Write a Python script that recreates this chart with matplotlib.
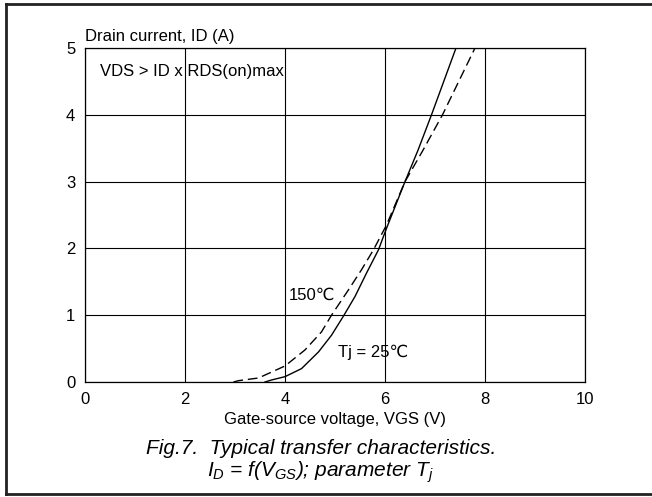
import matplotlib
matplotlib.use("Agg")
import matplotlib.pyplot as plt
from matplotlib.lines import Line2D

# ── Data ──────────────────────────────────────────────────────────
vgs_25 = [3.6, 3.73, 4.0, 4.33, 4.67, 4.93, 5.18, 5.4, 5.63, 5.87, 6.03, 6.4, 6.66, 6.93, 7.42]
id_25  = [0.0, 0.03, 0.08, 0.2, 0.45, 0.7, 1.0, 1.28, 1.63, 1.98, 2.3, 3.0, 3.47, 4.0, 5.0]

vgs_150 = [2.97, 3.07, 3.47, 4.0, 4.4, 4.73, 4.93, 5.27, 5.53, 5.77, 6.03, 6.4, 6.76, 7.15, 7.8]
id_150  = [0.0, 0.02, 0.06, 0.24, 0.48, 0.75, 1.0, 1.38, 1.68, 1.98, 2.35, 3.0, 3.47, 4.0, 5.0]

x_ticks = [0, 2, 4, 6, 8, 10]
y_ticks = [0, 1, 2, 3, 4, 5]

# ── Style ─────────────────────────────────────────────────────────
plt.rcParams.update({
    "font.family": ["Liberation Sans", "DejaVu Sans"],
    "font.size": 12,
    "mathtext.fontset": "custom",
    "mathtext.rm": "Liberation Sans",
    "mathtext.it": "Liberation Sans:italic",
})

fig = plt.figure(figsize=(6.52, 4.97), dpi=100, facecolor="white")
ax = fig.add_axes([85 / 652, 1 - 382 / 497, 500 / 652, 334 / 497])

ax.plot(vgs_25, id_25, color="black", lw=1.0)
ax.plot(vgs_150, id_150, color="black", lw=1.0, dashes=(7, 3.5))

ax.set_xlim(0, 10)
ax.set_ylim(0, 5)
ax.set_xticks(x_ticks)
ax.set_yticks(y_ticks)
ax.tick_params(length=0, pad=7, labelsize=12, colors="black")
ax.grid(True, color="black", lw=0.8)
for s in ax.spines.values():
    s.set_color("black")
    s.set_linewidth(0.9)

ax.set_xlabel("Gate-source voltage, VGS (V)", fontsize=12, labelpad=4)
ax.text(0.0, 5.06, "Drain current, ID (A)", fontsize=12, ha="left", va="bottom")
ax.text(0.3, 4.65, "VDS > ID x RDS(on)max", fontsize=12, ha="left", va="center")
ax.text(4.08, 1.3, "150℃", fontsize=12, ha="left", va="center")
ax.text(5.06, 0.45, "Tj = 25℃", fontsize=12, ha="left", va="center")

# caption
fig.text(0.493, 1 - 449 / 497, "Fig.7.  Typical transfer characteristics.",
         ha="center", va="center", fontsize=15, style="italic")
fig.text(0.492, 1 - 472 / 497, r"$I_D$ = f($V_{GS}$); parameter $T_j$",
         ha="center", va="center", fontsize=15, style="italic")

# page frame (left, top, bottom)
for xs, ys in [([6 / 652, 6 / 652], [3 / 497, 1 - 4 / 497]),
               ([6 / 652, 1.0], [1 - 4 / 497, 1 - 4 / 497]),
               ([6 / 652, 1.0], [3 / 497, 3 / 497])]:
    fig.add_artist(Line2D(xs, ys, color="#222222", lw=2.0, transform=fig.transFigure))

fig.savefig("out.png", dpi=100, facecolor="white")
